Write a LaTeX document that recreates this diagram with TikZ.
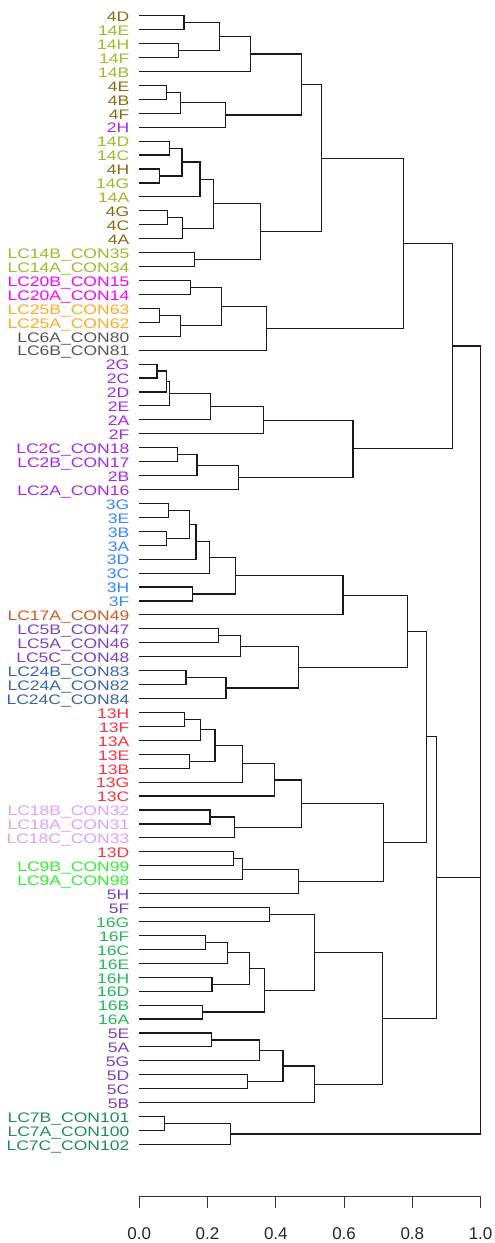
\documentclass[tikz,border=0pt]{standalone}
\usepackage{fontspec}
\setmainfont{Liberation Sans}
\usetikzlibrary{calc}
\definecolor{cA}{HTML}{8B6914}
\definecolor{cB}{HTML}{9BBB2A}
\definecolor{cC}{HTML}{A526F0}
\definecolor{cD}{HTML}{FF00FF}
\definecolor{cE}{HTML}{FFAA22}
\definecolor{cF}{HTML}{555555}
\definecolor{cG}{HTML}{3388FF}
\definecolor{cH}{HTML}{D2561E}
\definecolor{cI}{HTML}{7B3FC4}
\definecolor{cJ}{HTML}{3B62A8}
\definecolor{cK}{HTML}{FF3040}
\definecolor{cL}{HTML}{DDA0FF}
\definecolor{cM}{HTML}{33EE33}
\definecolor{cN}{HTML}{22B85A}
\definecolor{cO}{HTML}{1E8C5A}
\newcommand\dmerge[4]{%
  \path let \p1=(#2), \p2=(#3) in coordinate (#1) at ({(139.3+341.3*#4)*1pt},{(\y1+\y2)/2});
  \draw[dline] (#2) -| (#1) |- (#3);}
\begin{document}
\begin{tikzpicture}[x=1pt,y=-1pt,
  dline/.style={draw=black!90,line width=1.15pt},
  leaflab/.style={anchor=base east,inner sep=0pt,font=\fontsize{13.8}{14}\selectfont},
  axlab/.style={anchor=base,inner sep=0pt,font=\fontsize{17}{18}\selectfont,text=black!85}]
\useasboundingbox (0,0) rectangle (495,1243);
\foreach \i/\t/\c in {1/4D/cA,2/14E/cB,3/14H/cB,4/14F/cB,5/14B/cB,6/4E/cA,7/4B/cA,8/4F/cA,9/2H/cC,
 10/14D/cB,11/14C/cB,12/4H/cA,13/14G/cB,14/14A/cB,15/4G/cA,16/4C/cA,17/4A/cA,
 18/LC14B\_CON35/cB,19/LC14A\_CON34/cB,20/LC20B\_CON15/cD,21/LC20A\_CON14/cD,
 22/LC25B\_CON63/cE,23/LC25A\_CON62/cE,24/LC6A\_CON80/cF,25/LC6B\_CON81/cF,
 26/2G/cC,27/2C/cC,28/2D/cC,29/2E/cC,30/2A/cC,31/2F/cC,
 32/LC2C\_CON18/cC,33/LC2B\_CON17/cC,34/2B/cC,35/LC2A\_CON16/cC,
 36/3G/cG,37/3E/cG,38/3B/cG,39/3A/cG,40/3D/cG,41/3C/cG,42/3H/cG,43/3F/cG,
 44/LC17A\_CON49/cH,45/LC5B\_CON47/cI,46/LC5A\_CON46/cI,47/LC5C\_CON48/cI,
 48/LC24B\_CON83/cJ,49/LC24A\_CON82/cJ,50/LC24C\_CON84/cJ,
 51/13H/cK,52/13F/cK,53/13A/cK,54/13E/cK,55/13B/cK,56/13G/cK,57/13C/cK,
 58/LC18B\_CON32/cL,59/LC18A\_CON31/cL,60/LC18C\_CON33/cL,61/13D/cK,
 62/LC9B\_CON99/cM,63/LC9A\_CON98/cM,64/5H/cI,65/5F/cI,
 66/16G/cN,67/16F/cN,68/16C/cN,69/16E/cN,70/16H/cN,71/16D/cN,72/16B/cN,73/16A/cN,
 74/5E/cI,75/5A/cI,76/5G/cI,77/5D/cI,78/5C/cI,79/5B/cI,
 80/LC7B\_CON101/cO,81/LC7A\_CON100/cO,82/LC7C\_CON102/cO}{
  \pgfmathsetmacro\yy{15.7+(\i-1)*13.935}
  \coordinate (L\i) at (139.3,\yy);
  \node[leaflab,text=\c] (t\i) at (129.5,\yy+5.8) {\scalebox{1.27}[1]{\t}};
}
% top cluster
\dmerge{m1}{L1}{L2}{0.131}
\dmerge{m2}{L3}{L4}{0.114}
\dmerge{m3}{m1}{m2}{0.236}
\dmerge{m4}{m3}{L5}{0.327}
\dmerge{m5}{L6}{L7}{0.079}
\dmerge{m6}{m5}{L8}{0.120}
\dmerge{m7}{m6}{L9}{0.252}
\dmerge{m8}{m4}{m7}{0.475}
\dmerge{m9}{L10}{L11}{0.089}
\dmerge{m10}{L12}{L13}{0.060}
\dmerge{m11}{m9}{m10}{0.125}
\dmerge{m12}{m11}{L14}{0.178}
\dmerge{m13}{L15}{L16}{0.082}
\dmerge{m14}{m13}{L17}{0.127}
\dmerge{m15}{m12}{m14}{0.217}
\dmerge{m16}{L18}{L19}{0.162}
\dmerge{m17}{m15}{m16}{0.355}
\dmerge{m18}{m8}{m17}{0.534}
\dmerge{m19}{L20}{L21}{0.151}
\dmerge{m20}{L22}{L23}{0.059}
\dmerge{m21}{m20}{L24}{0.120}
\dmerge{m22}{m19}{m21}{0.241}
\dmerge{m23}{m22}{L25}{0.373}
\dmerge{m24}{m18}{m23}{0.773}
% 2 group
\dmerge{m25}{L26}{L27}{0.052}
\dmerge{m26}{m25}{L28}{0.079}
\dmerge{m27}{m26}{L29}{0.089}
\dmerge{m28}{m27}{L30}{0.209}
\dmerge{m29}{m28}{L31}{0.363}
\dmerge{m30}{L32}{L33}{0.113}
\dmerge{m31}{m30}{L34}{0.169}
\dmerge{m32}{m31}{L35}{0.291}
\dmerge{m33}{m29}{m32}{0.626}
\dmerge{m34}{m24}{m33}{0.917}
% 3 group
\dmerge{m35}{L36}{L37}{0.086}
\dmerge{m36}{L38}{L39}{0.080}
\dmerge{m37}{m35}{m36}{0.148}
\dmerge{m38}{m37}{L40}{0.166}
\dmerge{m39}{m38}{L41}{0.206}
\dmerge{m40}{L42}{L43}{0.155}
\dmerge{m41}{m39}{m40}{0.282}
\dmerge{m42}{m41}{L44}{0.597}
\dmerge{m43}{L45}{L46}{0.231}
\dmerge{m44}{m43}{L47}{0.296}
\dmerge{m45}{L48}{L49}{0.137}
\dmerge{m46}{m45}{L50}{0.254}
\dmerge{m47}{m44}{m46}{0.467}
\dmerge{m48}{m42}{m47}{0.785}
% 13 group
\dmerge{m49}{L51}{L52}{0.132}
\dmerge{m50}{m49}{L53}{0.179}
\dmerge{m51}{L54}{L55}{0.147}
\dmerge{m52}{m50}{m51}{0.222}
\dmerge{m53}{m52}{L56}{0.302}
\dmerge{m54}{m53}{L57}{0.396}
\dmerge{m55}{L58}{L59}{0.207}
\dmerge{m56}{m55}{L60}{0.280}
\dmerge{m57}{m54}{m56}{0.474}
\dmerge{m58}{L61}{L62}{0.277}
\dmerge{m59}{m58}{L63}{0.303}
\dmerge{m60}{m59}{L64}{0.467}
\dmerge{m61}{m57}{m60}{0.716}
\dmerge{m62}{m48}{m61}{0.842}
% 16 / 5 group
\dmerge{m63}{L65}{L66}{0.381}
\dmerge{m64}{L67}{L68}{0.194}
\dmerge{m65}{m64}{L69}{0.258}
\dmerge{m66}{L70}{L71}{0.213}
\dmerge{m67}{m65}{m66}{0.322}
\dmerge{m68}{L72}{L73}{0.185}
\dmerge{m69}{m67}{m68}{0.367}
\dmerge{m70}{m63}{m69}{0.514}
\dmerge{m71}{L74}{L75}{0.211}
\dmerge{m72}{m71}{L76}{0.352}
\dmerge{m73}{L77}{L78}{0.316}
\dmerge{m74}{m72}{m73}{0.421}
\dmerge{m75}{m74}{L79}{0.513}
\dmerge{m76}{m70}{m75}{0.712}
\dmerge{m77}{m62}{m76}{0.872}
% LC7
\dmerge{m78}{L80}{L81}{0.073}
\dmerge{m79}{m78}{L82}{0.268}
% root
\dmerge{m80}{m34}{m77}{1.0}
\dmerge{m81}{m80}{m79}{1.0}
% axis
\coordinate (ax0) at (139.3,1196.7);
\coordinate (ax1) at (480.7,1196.7);
\draw[line width=1pt,black!80] (ax0) -- (ax1);
\foreach \k/\lab in {0/0.0,1/0.2,2/0.4,3/0.6,4/0.8,5/1.0}{
  \coordinate (tk\k) at ({139.3+341.3*\k/5},1196.7);
  \draw[line width=1pt,black!80] (tk\k) -- ++(0,11.6);
  \node[axlab] (al\k) at ({139.3+341.3*\k/5},1239.5) {\lab};
}
\end{tikzpicture}
\end{document}
